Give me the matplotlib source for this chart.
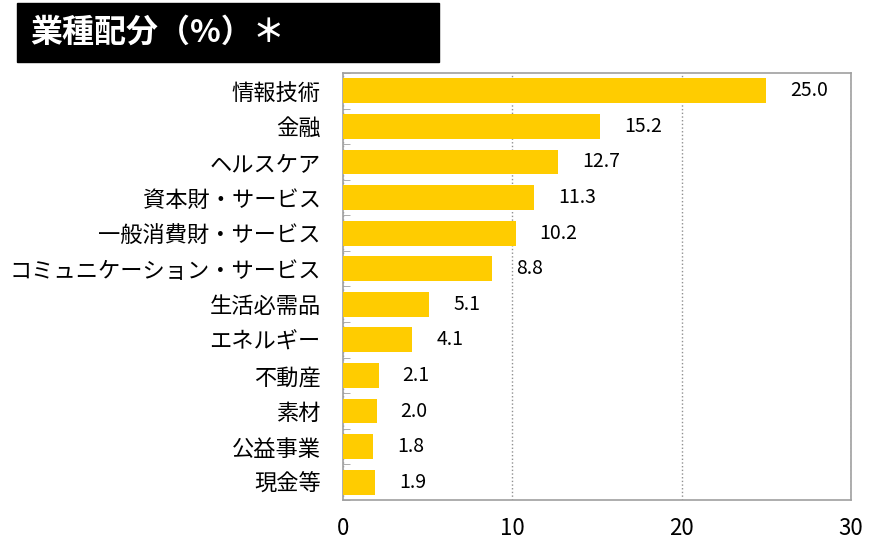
import matplotlib
matplotlib.use("Agg")
import matplotlib.pyplot as plt
from matplotlib.patches import Rectangle
import numpy as np

plt.rcParams['font.family'] = ['Noto Sans CJK JP', 'DejaVu Sans']

categories = ['情報技術', '金融', 'ヘルスケア', '資本財・サービス', '一般消費財・サービス',
              'コミュニケーション・サービス', '生活必需品', 'エネルギー', '不動産', '素材',
              '公益事業', '現金等']
values = [25.0, 15.2, 12.7, 11.3, 10.2, 8.8, 5.1, 4.1, 2.1, 2.0, 1.8, 1.9]
xticks = [0, 10, 20, 30]

fig = plt.figure(figsize=(8.96, 5.54), dpi=100)
ax = fig.add_axes([343 / 896, 1 - 500 / 554, 508 / 896, 427 / 554])

y = np.arange(len(categories))
ax.barh(y, values, height=0.7, color='#FFCC00', zorder=3)
for yi, v in zip(y, values):
    ax.text(v + 1.4, yi, f'{v:.1f}', va='center', ha='left', fontsize=14, color='black')

ax.set_xlim(0, 30)
ax.set_ylim(len(categories) - 0.5, -0.5)
ax.set_xticks(xticks)
ax.set_xticklabels([str(t) for t in xticks], fontsize=16)
ax.set_yticks(y)
ax.set_yticklabels(categories, fontsize=16)
ax.set_yticks(np.arange(len(categories) + 1) - 0.5, minor=True)
ax.tick_params(axis='y', which='major', length=0, pad=16)
ax.tick_params(axis='y', which='minor', length=5, direction='in', color='#a0a0a0')
ax.tick_params(axis='x', length=0, pad=12)
for s in ax.spines.values():
    s.set_color('#a0a0a0')
    s.set_linewidth(1.2)
ax.xaxis.grid(True, linestyle=':', color='#909090', linewidth=1, zorder=0)

fig.patches.append(Rectangle((17 / 896, 1 - 62 / 554), 422 / 896, 59 / 554,
                             transform=fig.transFigure, color='black', zorder=0))
fig.text(30 / 896, 1 - 33 / 554, '業種配分（%）＊', color='white', fontsize=23,
         fontweight='bold', va='center', ha='left')

fig.savefig('out.png', dpi=100)
